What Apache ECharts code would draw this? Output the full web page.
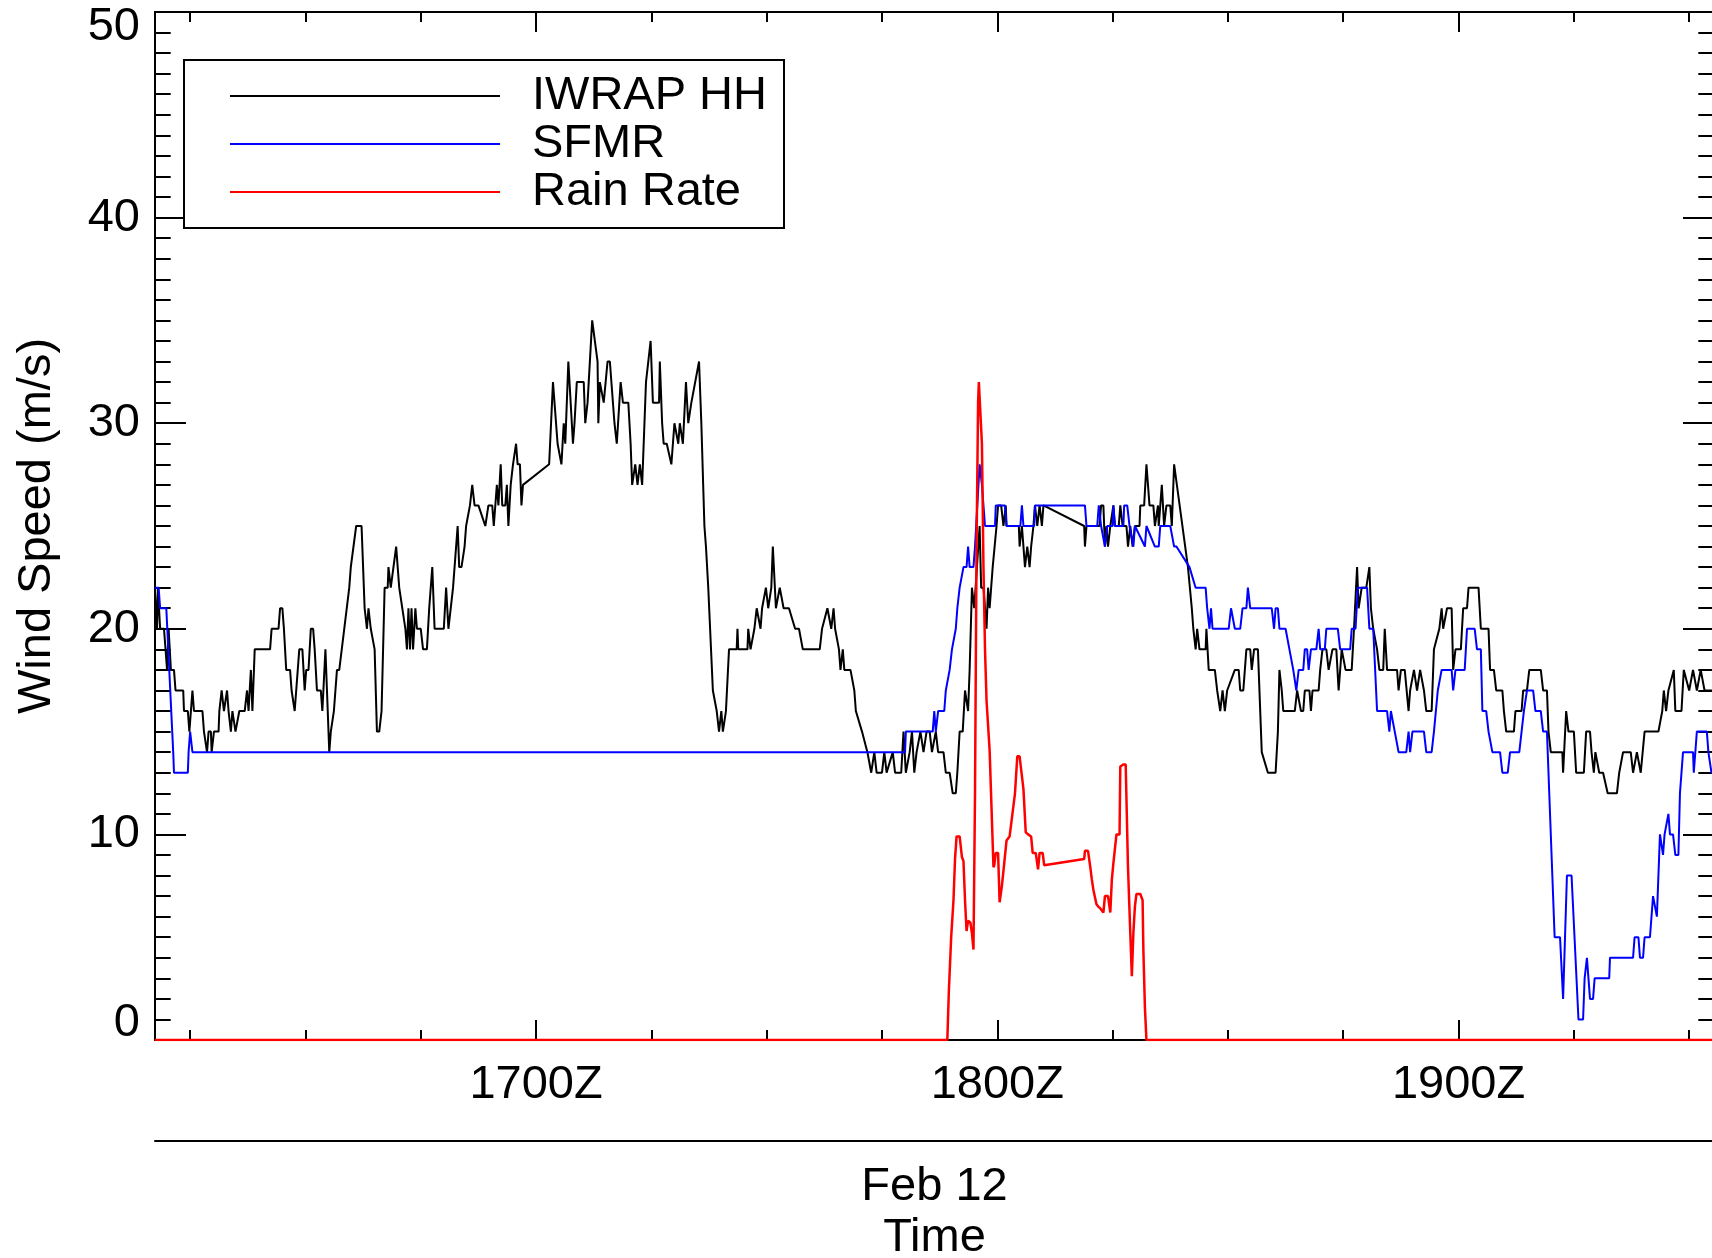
<!DOCTYPE html>
<html>
<head>
<meta charset="utf-8">
<script src="https://cdn.jsdelivr.net/npm/echarts@6/dist/echarts.min.js"></script>
<style>
html,body{margin:0;padding:0;background:#fff;}
#c{width:1712px;height:1258px;}
</style>
</head>
<body>
<div id="c"></div>
<script>
// time in minutes after 16:00Z, value in m/s (rain in mm/h)
const seriesNames = ['IWRAP HH', 'SFMR', 'Rain Rate'];
const xMajorTicks = [60, 120, 180];
const xMajorLabels = ['1700Z', '1800Z', '1900Z'];
const xMinorTicks = [15, 30, 45, 60, 75, 90, 105, 120, 135, 150, 165, 180, 195, 210];
const xRange = [10.43, 213.23];

const iwrap = [
[10.4,22],[10.7,20],[10.8,22],[11.1,20],[11.6,20],[12.0,18],[12.2,20],[12.5,18],[12.9,18],[13.1,17],[14.1,17],[14.2,16],[14.7,16],[14.9,15],[15.3,17],[15.5,16],[16.6,16],[16.8,15],[17.2,14],[17.4,15],[17.7,15],[17.8,14],[18.1,15],[18.7,15],[18.8,16],[19.1,17],[19.4,16],[19.8,17],[20.0,16],[20.3,15],[20.5,16],[20.9,15],[21.4,16],[22.1,16],[22.4,17],[22.6,16],[22.9,18],[23.1,16],[23.4,19],[25.4,19],[25.6,20],[26.5,20],[26.7,21],[27.0,21],[27.2,20],[27.5,18],[28.0,18],[28.2,17],[28.4,17],[28.6,16],[29.0,18],[29.2,19],[29.6,19],[29.9,17],[30.1,18],[30.4,18],[30.7,20],[31.0,20],[31.2,19],[31.5,17],[32.0,17],[32.2,16],[32.6,19],[32.8,17],[33.1,14],[33.3,15],[33.7,16],[34.1,18],[34.4,18],[35.7,22],[35.9,23],[36.6,25],[37.3,25],[37.7,21],[38.0,20],[38.2,21],[38.5,20],[38.7,20],[39.0,19],[39.3,15],[39.6,15],[39.9,16],[40.3,22],[40.7,22],[40.8,23],[41.1,22],[41.8,24],[42.2,22],[43.0,20],[43.2,19],[43.4,21],[43.6,19],[43.8,21],[44.0,19],[44.3,21],[44.5,20],[45.0,20],[45.3,19],[45.8,19],[46.1,21],[46.3,21],[46.5,23],[46.8,20],[48.0,20],[48.3,22],[48.6,20],[49.2,22],[49.4,22],[49.8,25],[50.0,23],[50.3,23],[50.7,24],[50.9,25],[51.4,26],[51.7,27],[52.0,26],[52.5,26],[53.4,25],[53.8,26],[54.3,26],[54.5,25],[54.9,27],[55.1,26],[55.4,28],[55.6,26],[56.0,26],[56.2,27],[56.4,25],[56.7,27],[57.0,28],[57.2,28],[57.4,29],[57.6,28],[57.9,28],[58.1,26],[58.3,27],[61.7,28],
[62.2,32],[62.8,29],[63.3,28],[63.6,30],[63.8,29],[64.2,33],[64.8,29],[65.0,30],[65.3,32],[66.2,32],[66.4,30],[66.7,31],[67.3,35],[68.0,33],[68.1,30],[68.3,32],[68.8,31],[69.0,31],[69.3,33],[69.6,33],[70.2,30],[70.5,29],[71.0,32],[71.3,31],[72.0,31],[72.3,29],[72.5,27],[72.9,28],[73.2,27],[73.5,28],[73.8,27],[74.3,32],[74.5,32],[74.9,34],[75.2,31],[76.0,31],[76.1,33],[76.4,30],[76.6,29],[77.0,29],[77.6,28],[78.0,30],[78.5,29],[78.7,30],[79.1,29],[79.5,32],[79.8,30],[80.2,31],[81.2,33],[81.5,30],[81.9,25],[82.1,24],[82.4,22],[83.0,17],[83.5,16],[83.8,15],[84.1,16],[84.3,15],[84.7,16],[85.1,19],[86.1,19],[86.2,20],[86.3,19],[87.5,19],[87.6,20],[87.9,19],[88.4,20],[88.7,21],[89.2,20],[89.4,21],[89.9,22],[90.2,21],[90.6,22],[90.8,24],[91.2,21],[91.7,22],[92.2,21],[92.9,21],[93.7,20],[94.2,20],[94.7,19],[96.9,19],[97.2,20],[97.9,21],[98.4,20],[98.7,21],[98.9,20],[99.4,19],[99.6,18],[99.9,19],[100.1,18],[100.9,18],[101.4,17],[101.6,16],[102.4,15],[103.1,14],
[103.6,13],[104.0,14],[104.3,13],[105.0,13],[105.3,14],[105.6,13],[106.4,14],[106.7,13],[107.5,13],[107.8,15],[108.1,13],[108.6,14],[108.9,15],[109.2,13],[109.5,14],[110.0,15],[110.4,14],[110.8,15],[111.2,15],[111.5,14],[112.0,15],[112.3,14],[113.0,14],[113.3,13],[113.8,13],[114.2,12],[114.6,12],[114.8,13],[115.1,15],[115.5,15],[115.8,17],[116.2,16],
[116.4,18],[116.7,22],[117.0,21],[117.7,25],[117.9,22],[118.2,22],[118.4,21],[118.6,20],[118.8,22],[119.0,21],[119.2,22],[119.4,23],[119.6,23],[119.9,25],[120.1,26],[120.5,26],[120.8,25],[121.1,26],[121.2,25],[122.8,25],[122.9,24],[123.2,25],[123.6,23],[123.9,24],[124.2,23],[124.4,24],[124.7,25],[124.9,26],[125.2,25],[125.5,26],[125.8,25],[126.0,26],[131.3,25],[131.4,24],[131.6,25],[133.3,25],[133.5,26],[133.8,26],[134.0,24],[134.2,25],[134.4,24],[134.7,25],[135.1,26],[135.3,25],[135.8,25],[136.0,26],[136.3,25],[136.8,25],[137.0,24],[137.3,25],[137.6,24],[137.9,25],[138.5,25],[138.6,26],[139.1,26],[139.4,28],[139.8,26],[140.3,26],[140.5,25],[140.9,26],
[141.0,25],[141.4,27],[141.7,25],[142.0,26],[142.5,26],[142.7,25],[143.0,28],[144.8,23],[145.3,21],[145.5,20],[145.8,19],[146.0,20],[146.3,19],[147.1,19],[147.2,20],[147.5,18],[148.3,18],[148.6,17],[149.0,16],[149.3,17],[149.6,16],[149.9,17],[150.1,17],[150.9,18],[151.4,18],[151.6,17],[152.0,17],[152.4,19],[152.9,19],[153.1,18],[153.4,19],[153.9,19],[154.4,14],[155.2,13],[156.2,13],[156.5,15],[156.7,18],[157.0,17],[157.2,16],[158.7,16],[159.0,17],[159.5,16],[159.8,16],[160.0,17],[160.6,17],[160.8,16],[161.0,17],[161.8,17],[162.0,18],[162.3,19],[162.8,19],[163.1,18],[163.6,19],[164.1,19],[164.4,17],[164.8,19],[165.3,18],[166.1,18],[166.4,20],[166.8,23],[167.0,21],[167.4,22],[168.0,22],[168.4,23],[168.6,21],[168.9,20],[169.4,19],[169.7,18],[170.2,18],[170.4,20],[170.7,18],[172.0,18],[172.2,17],[172.5,18],[173.0,18],[173.5,16],[173.7,17],[174.2,18],[174.6,17],[175.0,18],[175.5,17],[175.8,16],[176.5,16],[176.8,19],[177.0,19],[177.5,20],[177.8,21],[178.0,20],[178.5,21],[179.1,21],[179.3,18],[179.6,19],[180.3,19],[180.6,21],[181.1,21],[181.3,22],[182.6,22],[182.9,20],[183.9,20],[184.1,18],[184.6,18],[184.9,17],[185.7,17],[185.9,16],[186.2,15],[187.2,15],[187.4,16],[188.2,16],[188.4,17],[188.9,17],[189.2,18],[190.7,18],[191.0,17],[191.5,17],[191.7,15],[192.0,14],[193.5,14],[193.6,13],[194.0,16],[194.3,15],[195.0,15],[195.3,13],[196.3,13],[196.6,15],[197.1,15],[197.3,14],[197.6,13],[197.8,14],[198.3,13],[198.8,13],[199.4,12],[200.6,12],[200.9,13],[201.4,14],[202.4,14],[202.7,13],[203.2,14],[203.7,13],[204.2,15],[206.0,15],[206.5,16],[206.7,17],[207.0,16],[207.3,17],[207.5,17],[208.0,18],[208.2,16],[209.0,16],[209.3,18],[210.0,17],[210.5,18],[211.0,17],[211.5,18],[212.0,17],[213.2,17]
];

const sfmr = [
[10.4,22],[10.9,22],[11.1,21],[11.9,21],[12.8,14],[12.9,13],[14.7,13],[14.8,14],[15.0,15],[15.3,14],[108.0,14],[108.1,15],[111.6,15],[111.8,16],[112.0,15],[112.2,15],[112.3,16],[113.1,16],[113.3,17],[113.8,18],[114.1,19],[114.6,20],[114.8,21],[115.1,22],[115.6,23],[116.0,23],[116.2,24],[116.4,23],[116.9,23],[117.1,24],[117.7,28],[118.0,27],[118.4,25],[119.7,25],[119.8,26],[121.0,26],[121.2,25],[123.0,25],[123.2,26],[123.4,25],[124.8,25],[124.9,26],[131.4,26],[131.6,25],[133.0,25],[133.2,26],[133.5,25],[134.0,24],[134.3,25],[135.0,25],[135.1,26],[135.3,25],[136.4,25],[136.5,26],[136.9,26],[137.2,25],[137.7,24],[137.9,25],[139.2,24],[139.4,25],[140.5,24],[141.0,24],[141.2,25],[142.5,25],[143.0,24],[143.3,24],[145.0,23],[145.8,22],[147.1,22],[147.3,21],[147.6,20],[147.8,21],[148.0,20],[148.3,20],[150.1,20],[150.4,21],[150.6,21],[150.9,20],[151.6,20],[151.9,21],[152.4,21],[152.6,22],[152.9,21],[155.7,21],[156.0,20],[156.2,21],[156.5,21],[156.7,20],[157.5,20],[158.0,19],[158.2,19],[158.5,18],[158.9,17],[159.2,18],[159.8,18],[160.0,19],[160.3,19],[160.5,18],[160.8,19],[161.5,19],[161.8,20],[162.0,19],[162.6,19],[162.8,20],[164.3,20],[164.6,19],[165.9,19],[166.1,20],[166.6,20],[166.9,22],[168.1,22],[168.4,20],[168.9,20],[169.4,16],[170.7,16],[171.0,15],[171.2,16],[171.4,16],[171.7,15],[172.2,14],[173.2,14],[173.5,15],[173.7,14],[174.0,15],[175.5,15],[175.8,14],[176.5,14],[176.8,15],[177.0,15],[177.3,17],[177.8,18],[179.1,18],[179.3,17],[179.6,18],[180.8,18],[181.1,20],[182.1,20],[182.4,19],[182.9,19],[183.1,16],[183.6,16],[183.9,15],[184.1,15],[184.4,14],[185.4,14],[185.7,13],[186.4,13],[186.7,14],[187.9,14],[188.2,15],[188.5,16],[188.9,17],[189.7,17],[190.0,16],[190.7,16],[191.0,15],[191.5,15],[192.2,8],[192.5,5],[193.2,5],[193.6,2],[194.1,8],[194.7,8],[195.6,1],[196.2,1],[196.4,3],[196.7,4],[196.9,3],[197.1,2],[197.5,2],[197.7,3],[199.6,3],[199.7,4],[202.7,4],[202.9,5],[203.4,5],[203.6,4],[204.0,4],[204.2,5],[204.9,5],[205.3,7],[205.8,6],[206.2,10],[206.6,9],[206.8,10],[207.3,11],[207.5,10],[207.9,10],[208.2,9],[208.6,9],[208.8,12],[209.2,14],[210.5,14],[210.6,13],[211.0,15],[212.3,15],[212.5,14],[212.9,13],[213.2,13]
];

const rain = [
[10.4,0],[113.5,0],[113.7,2.4],[114.0,5],[114.3,6.8],[114.5,8.8],[114.7,9.9],[115.1,9.9],[115.4,8.9],[115.6,8.7],[115.8,6.8],[116.0,5.3],[116.2,5.8],[116.5,5.7],[116.7,5.2],[116.9,4.4],[117.1,12],[117.3,24],[117.5,31],[117.6,32],[117.8,32],[118.0,29],[118.2,23],[118.4,19],[118.6,16.5],[119.0,14.1],[119.5,8.4],[119.6,8.5],[119.8,9.1],[120.1,9.1],[120.3,6.7],[120.6,7.5],[120.8,7.5],[121.2,9.7],[121.6,9.9],[122.3,12.0],[122.6,13.8],[122.9,13.8],[123.4,12.2],[123.7,10.1],[124.0,10.0],[124.4,9.9],[124.6,9.1],[125.0,9.1],[125.3,8.3],[125.5,9.1],[125.9,9.1],[126.1,8.5],[131.3,8.8],[131.4,9.2],[131.8,9.2],[132.1,8.4],[132.3,7.8],[132.5,7.3],[132.9,6.6],[133.1,6.5],[133.4,6.4],[133.8,6.2],[134.0,7.0],[134.4,7.0],[134.7,6.2],[134.9,7.8],[135.1,8.6],[135.5,10.0],[135.9,10.0],[136.0,13.3],[136.4,13.4],[136.7,13.4],[137.0,8.4],[137.3,5.2],[137.5,3.1],[137.7,5.2],[137.9,6.5],[138.1,7.1],[138.6,7.1],[138.9,6.8],[139.0,4.4],[139.2,1.6],[139.4,0],[213.2,0]
];

const FONT = 'Liberation Sans, Arial, Helvetica, sans-serif';
const chart = echarts.init(document.getElementById('c'), null, {renderer: 'canvas'});

const axisLineStyle = {color: '#000', width: 2};
function xAx(pos, ticks, len, withLabels) {
  return {
    type: 'value', position: pos, min: xRange[0], max: xRange[1],
    axisLine: {show: true, onZero: false, lineStyle: axisLineStyle},
    axisTick: {show: true, inside: true, length: len, customValues: ticks, lineStyle: {color: '#000', width: 2}},
    axisLabel: withLabels ? {
      show: true, customValues: xMajorTicks, margin: 22,
      fontSize: 47, fontFamily: FONT, color: '#000',
      formatter: v => xMajorLabels[xMajorTicks.indexOf(Math.round(v))] || ''
    } : {show: false},
    splitLine: {show: false}
  };
}
function yAx(pos, withLabels) {
  return {
    type: 'value', position: pos, min: 0, max: 50, interval: 10,
    axisLine: {show: true, onZero: false, lineStyle: axisLineStyle},
    axisTick: {show: true, inside: true, length: 31, lineStyle: {color: '#000', width: 2}},
    minorTick: {show: true, splitNumber: 10, length: 15.7, lineStyle: {color: '#000', width: 2}},
    splitLine: {show: false}, minorSplitLine: {show: false},
    axisLabel: withLabels ? {
      show: true, margin: 15, fontSize: 47, fontFamily: FONT, color: '#000',
      formatter: v => v === 0 ? '{lo|0}' : (v === 50 ? '{hi|50}' : String(v)),
      rich: {
        lo: {fontSize: 47, fontFamily: FONT, color: '#000', padding: [0, 0, 34, 0]},
        hi: {fontSize: 47, fontFamily: FONT, color: '#000', padding: [30, 0, 0, 0]}
      }
    } : {show: false},
    name: withLabels ? 'Wind Speed (m/s)' : '',
    nameLocation: 'middle', nameGap: 94, nameRotate: 90,
    nameTextStyle: {fontSize: 47, fontFamily: FONT, color: '#000'}
  };
}

const option = {
  animation: false,
  backgroundColor: '#fff',
  grid: {left: 155, right: -2, top: 12, bottom: 218, outerBoundsMode: 'none', containLabel: false},
  legend: {
    orient: 'vertical', left: 184, top: 60,
    padding: [12, 17, 12, 46],
    borderColor: '#000', borderWidth: 2, backgroundColor: '#fff',
    itemWidth: 270, itemHeight: 2, itemGap: 0, icon: 'rect',
    textStyle: {fontSize: 47, lineHeight: 42, color: '#000', fontFamily: FONT, padding: [0, 0, 6, 27]},
    data: seriesNames
  },
  xAxis: [
    xAx('bottom', xMinorTicks, 10, false),
    xAx('bottom', xMajorTicks, 20, true),
    xAx('top', xMinorTicks, 10, false),
    xAx('top', xMajorTicks, 20, false),
    {
      type: 'value', position: 'bottom', offset: 101, min: xRange[0], max: xRange[1],
      axisLine: {show: true, onZero: false, lineStyle: axisLineStyle},
      axisTick: {show: false}, axisLabel: {show: false}, splitLine: {show: false},
      name: 'Feb 12\nTime', nameLocation: 'middle', nameGap: 21,
      nameTextStyle: {fontSize: 47, lineHeight: 51, fontFamily: FONT, color: '#000'}
    }
  ],
  yAxis: [yAx('left', true), yAx('right', false)],
  series: [
    {name: seriesNames[0], type: 'line', data: iwrap, showSymbol: false, symbol: 'none',
     lineStyle: {color: '#000', width: 2}, itemStyle: {color: '#000'}, z: 2},
    {name: seriesNames[1], type: 'line', data: sfmr, showSymbol: false, symbol: 'none',
     lineStyle: {color: '#0000ff', width: 2}, itemStyle: {color: '#0000ff'}, z: 3},
    {name: seriesNames[2], type: 'line', data: rain, showSymbol: false, symbol: 'none',
     lineStyle: {color: '#ff0000', width: 2.5}, itemStyle: {color: '#ff0000'}, z: 4}
  ]
};
chart.setOption(option);
</script>
</body>
</html>
